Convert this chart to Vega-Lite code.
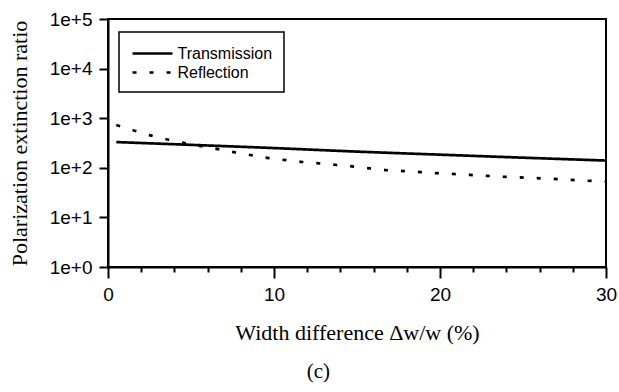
{
  "$schema": "https://vega.github.io/schema/vega-lite/v6.json",
  "width": 498,
  "height": 248,
  "autosize": {"type": "none"},
  "padding": {"left": 108, "top": 19, "right": 13, "bottom": 125},
  "background": "white",
  "title": {
    "text": "(c)",
    "orient": "bottom",
    "anchor": "middle",
    "frame": "bounds",
    "font": "Liberation Serif",
    "fontSize": 21,
    "fontWeight": "normal",
    "color": "black",
    "offset": 18,
    "dx": 6
  },
  "config": {
    "view": {"stroke": "black", "strokeWidth": 2},
    "axis": {
      "domainColor": "black",
      "domainWidth": 2,
      "tickColor": "black",
      "tickWidth": 2,
      "grid": false,
      "labelFont": "Liberation Sans",
      "labelFontSize": 19,
      "labelColor": "black",
      "titleFont": "Liberation Serif",
      "titleFontSize": 22,
      "titleFontWeight": "normal",
      "titleColor": "black"
    }
  },
  "data": {
    "values": [
      {"w": 0.5, "ratio": 330, "series": "Transmission"},
      {"w": 5, "ratio": 290, "series": "Transmission"},
      {"w": 10, "ratio": 250, "series": "Transmission"},
      {"w": 15, "ratio": 212, "series": "Transmission"},
      {"w": 20, "ratio": 184, "series": "Transmission"},
      {"w": 25, "ratio": 160, "series": "Transmission"},
      {"w": 30, "ratio": 140, "series": "Transmission"},
      {"w": 0.5, "ratio": 730, "series": "Reflection"},
      {"w": 1.6, "ratio": 560, "series": "Reflection"},
      {"w": 2.6, "ratio": 445, "series": "Reflection"},
      {"w": 3.7, "ratio": 365, "series": "Reflection"},
      {"w": 4.7, "ratio": 312, "series": "Reflection"},
      {"w": 5.7, "ratio": 270, "series": "Reflection"},
      {"w": 6.7, "ratio": 236, "series": "Reflection"},
      {"w": 7.7, "ratio": 203, "series": "Reflection"},
      {"w": 8.7, "ratio": 178, "series": "Reflection"},
      {"w": 9.7, "ratio": 157, "series": "Reflection"},
      {"w": 10.7, "ratio": 143, "series": "Reflection"},
      {"w": 11.7, "ratio": 131, "series": "Reflection"},
      {"w": 12.8, "ratio": 122, "series": "Reflection"},
      {"w": 13.8, "ratio": 114, "series": "Reflection"},
      {"w": 14.8, "ratio": 106, "series": "Reflection"},
      {"w": 15.8, "ratio": 97, "series": "Reflection"},
      {"w": 16.7, "ratio": 90, "series": "Reflection"},
      {"w": 17.8, "ratio": 86, "series": "Reflection"},
      {"w": 18.8, "ratio": 82, "series": "Reflection"},
      {"w": 19.8, "ratio": 78, "series": "Reflection"},
      {"w": 20.8, "ratio": 75, "series": "Reflection"},
      {"w": 21.8, "ratio": 72, "series": "Reflection"},
      {"w": 22.8, "ratio": 69, "series": "Reflection"},
      {"w": 23.8, "ratio": 66, "series": "Reflection"},
      {"w": 24.8, "ratio": 64, "series": "Reflection"},
      {"w": 25.8, "ratio": 62, "series": "Reflection"},
      {"w": 26.8, "ratio": 60, "series": "Reflection"},
      {"w": 27.9, "ratio": 57, "series": "Reflection"},
      {"w": 28.9, "ratio": 55, "series": "Reflection"},
      {"w": 30, "ratio": 53, "series": "Reflection"}
    ]
  },
  "mark": {"type": "line", "color": "black", "strokeWidth": 2.7, "interpolate": "monotone", "strokeCap": "butt"},
  "encoding": {
    "x": {
      "field": "w",
      "type": "quantitative",
      "scale": {"domain": [0, 30], "nice": false, "zero": false},
      "axis": {
        "title": "Width difference Δw/w (%)",
        "values": [0, 2, 4, 6, 8, 10, 12, 14, 16, 18, 20, 22, 24, 26, 28, 30],
        "labelExpr": "datum.value % 10 === 0 ? datum.label : ''",
        "tickSize": {"condition": {"test": "datum.value % 10 === 0", "value": 11}, "value": 5},
        "labelPadding": 7,
        "titlePadding": 18,
        "labelFlush": false
      }
    },
    "y": {
      "field": "ratio",
      "type": "quantitative",
      "scale": {"type": "log", "domain": [1, 100000], "nice": false},
      "axis": {
        "title": "Polarization extinction ratio",
        "values": [1, 10, 100, 1000, 10000, 100000],
        "labelExpr": "'1e+' + round(log(datum.value) / LN10)",
        "tickSize": 9,
        "labelPadding": 7,
        "titlePadding": 18
      }
    },
    "strokeDash": {
      "field": "series",
      "type": "nominal",
      "scale": {"domain": ["Transmission", "Reflection"], "range": [[1, 0], [4, 13]]},
      "legend": {
        "title": null,
        "orient": "none",
        "legendX": 11,
        "legendY": 13,
        "fillColor": "white",
        "strokeColor": "black",
        "padding": 11,
        "symbolType": "M-2.22,0H2.22",
        "symbolSize": 324,
        "symbolOffset": 12,
        "symbolStrokeWidth": 2.5,
        "symbolStrokeColor": "black",
        "labelFont": "Liberation Sans",
        "labelFontSize": 16,
        "labelColor": "black",
        "labelOffset": 14.5,
        "rowPadding": 0,
        "encode": {"legend": {"update": {"strokeWidth": {"value": 1.5}}}}
      }
    }
  }
}
